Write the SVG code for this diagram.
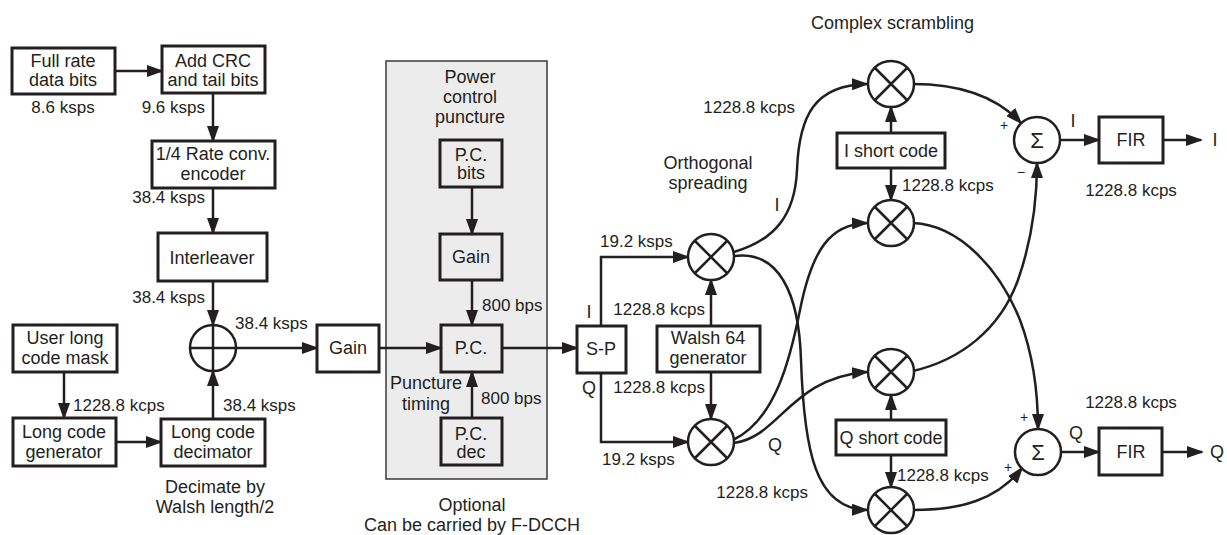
<svg xmlns="http://www.w3.org/2000/svg" width="1227" height="535" viewBox="0 0 1227 535">
<style>
text{font-family:"Liberation Sans",Arial,sans-serif;font-size:18px;fill:#231f20}
.r{font-size:17px}
.m{text-anchor:middle}
.e{text-anchor:end}
.box{fill:#fff;stroke:#231f20;stroke-width:3}
.gbox{fill:none;stroke:#231f20;stroke-width:3}
.c{fill:#fff;stroke:#231f20;stroke-width:2.5}
.x{stroke:#231f20;stroke-width:2.5;fill:none}
.ln{fill:none;stroke:#231f20;stroke-width:2.5}
.a{marker-end:url(#ah)}
.sm{font-size:14px}
</style>
<defs>
<marker id="ah" markerWidth="17" markerHeight="12" refX="15" refY="6" orient="auto" markerUnits="userSpaceOnUse">
<path d="M0,0 L17,6 L0,12 z" fill="#231f20"/>
</marker>
</defs>
<rect width="1227" height="535" fill="#fff"/>

<g id="optional-area">
<rect x="386" y="61" width="161" height="418" fill="#ececec" stroke="#3a3a3a" stroke-width="1.5"/>
<text class="m" x="470" y="83">Power</text>
<text class="m" x="470" y="103">control</text>
<text class="m" x="470" y="123">puncture</text>
<text class="m" x="472" y="511">Optional</text>
<text class="m" x="472" y="531">Can be carried by F-DCCH</text>
</g>

<g id="connectors">
<line class="ln a" x1="115" y1="71" x2="162" y2="71"/>
<line class="ln a" x1="213" y1="93" x2="213" y2="141"/>
<line class="ln a" x1="213" y1="188" x2="213" y2="233"/>
<line class="ln a" x1="213" y1="281" x2="213" y2="325"/>
<line class="ln a" x1="236" y1="348" x2="317" y2="348"/>
<line class="ln a" x1="64" y1="372" x2="64" y2="418"/>
<line class="ln a" x1="116" y1="442" x2="161" y2="442"/>
<line class="ln a" x1="213" y1="419" x2="213" y2="371"/>
<line class="ln a" x1="472" y1="187" x2="472" y2="234"/>
<line class="ln a" x1="472" y1="280" x2="472" y2="325"/>
<line class="ln a" x1="379" y1="348" x2="441" y2="348"/>
<line class="ln a" x1="472" y1="418" x2="472" y2="372"/>
<line class="ln a" x1="502" y1="348" x2="577" y2="348"/>
<polyline class="ln a" points="601,326 601,257 688,257"/>
<polyline class="ln a" points="601,373 601,442 688,442"/>
<line class="ln a" x1="711" y1="326" x2="711" y2="280"/>
<line class="ln a" x1="711" y1="372" x2="711" y2="419"/>
<path class="ln a" d="M734,252 C775,240 795,215 797,170 C799,115 815,85 867,84"/>
<path class="ln a" d="M734,256 C778,250 799,292 801,360 C804,450 815,509 867,510"/>
<path class="ln a" d="M733,440 C775,420 790,360 800,310 C812,250 830,224 867,223"/>
<path class="ln a" d="M734,443 C780,437 790,378 867,372"/>
<line class="ln a" x1="891" y1="133" x2="891" y2="107"/>
<line class="ln a" x1="891" y1="168" x2="891" y2="200"/>
<line class="ln a" x1="891" y1="420" x2="891" y2="395"/>
<line class="ln a" x1="891" y1="455" x2="891" y2="487"/>
<path class="ln a" d="M913,84 C960,84 996,96 1021,123"/>
<path class="ln a" d="M913,223 C960,225 1000,270 1020,320 C1035,360 1038,400 1038,429"/>
<path class="ln a" d="M913,371 C960,360 1000,330 1018,280 C1032,240 1037,200 1037,163"/>
<path class="ln a" d="M914,510 C960,510 997,500 1022,468"/>
<line class="ln a" x1="1060" y1="140" x2="1099" y2="140"/>
<line class="ln a" x1="1163" y1="140" x2="1201" y2="140"/>
<line class="ln a" x1="1061" y1="452" x2="1099" y2="452"/>
<line class="ln a" x1="1162" y1="452" x2="1202" y2="452"/>
</g>

<g id="full-rate">
<rect class="box" x="12" y="48" width="103" height="46"/>
<text class="m" x="63" y="67">Full rate</text>
<text class="m" x="63" y="86">data bits</text>
</g>
<g id="add-crc">
<rect class="box" x="162" y="46" width="103" height="47"/>
<text class="m" x="213" y="67">Add CRC</text>
<text class="m" x="213" y="86">and tail bits</text>
</g>
<g id="encoder">
<rect class="box" x="152" y="141" width="123" height="47"/>
<text class="m" x="213" y="160">1/4 Rate conv.</text>
<text class="m" x="213" y="180">encoder</text>
</g>
<g id="interleaver">
<rect class="box" x="158" y="233" width="109" height="48"/>
<text class="m" x="212" y="264">Interleaver</text>
</g>
<g id="xor">
<circle class="c" cx="213" cy="348" r="23"/>
<path class="x" d="M190,348 H236 M213,325 V371"/>
</g>
<g id="user-long-code-mask">
<rect class="box" x="13" y="325" width="104" height="47"/>
<text class="m" x="65" y="344">User long</text>
<text class="m" x="65" y="364">code mask</text>
</g>
<g id="long-code-generator">
<rect class="box" x="13" y="418" width="103" height="48"/>
<text class="m" x="64" y="438">Long code</text>
<text class="m" x="64" y="458">generator</text>
</g>
<g id="long-code-decimator">
<rect class="box" x="161" y="419" width="104" height="47"/>
<text class="m" x="213" y="438">Long code</text>
<text class="m" x="213" y="458">decimator</text>
</g>
<g id="gain">
<rect class="box" x="317" y="325" width="62" height="47"/>
<text class="m" x="348" y="354">Gain</text>
</g>
<g id="pc-bits">
<rect class="gbox" x="440" y="140" width="62" height="47"/>
<text class="m" x="471" y="161">P.C.</text>
<text class="m" x="471" y="179">bits</text>
</g>
<g id="pc-gain">
<rect class="gbox" x="440" y="234" width="62" height="46"/>
<text class="m" x="471" y="263">Gain</text>
</g>
<g id="pc">
<rect class="gbox" x="441" y="325" width="61" height="47"/>
<text class="m" x="471" y="354">P.C.</text>
</g>
<g id="pc-dec">
<rect class="gbox" x="441" y="418" width="61" height="47"/>
<text class="m" x="471" y="440">P.C.</text>
<text class="m" x="471" y="458">dec</text>
</g>
<g id="s-p">
<rect class="box" x="577" y="326" width="49" height="47"/>
<text class="m" x="601" y="355">S-P</text>
</g>
<g id="walsh">
<rect class="box" x="657" y="326" width="103" height="46"/>
<text class="m" x="708" y="344">Walsh 64</text>
<text class="m" x="708" y="364">generator</text>
</g>
<g id="spread-i">
<circle class="c" cx="711" cy="257" r="23"/>
<path class="x" d="M695,241 L727,273 M727,241 L695,273"/>
</g>
<g id="spread-q">
<circle class="c" cx="711" cy="442" r="23"/>
<path class="x" d="M695,426 L727,458 M727,426 L695,458"/>
</g>
<g id="mult-1">
<circle class="c" cx="891" cy="84" r="23"/>
<path class="x" d="M875,68 L907,100 M907,68 L875,100"/>
</g>
<g id="i-short-code">
<rect class="box" x="837" y="133" width="108" height="35"/>
<text class="m" x="891" y="157">I short code</text>
</g>
<g id="mult-2">
<circle class="c" cx="891" cy="223" r="23"/>
<path class="x" d="M875,207 L907,239 M907,207 L875,239"/>
</g>
<g id="mult-3">
<circle class="c" cx="891" cy="372" r="23"/>
<path class="x" d="M875,356 L907,388 M907,356 L875,388"/>
</g>
<g id="q-short-code">
<rect class="box" x="836" y="420" width="110" height="35"/>
<text class="m" x="891" y="444">Q short code</text>
</g>
<g id="mult-4">
<circle class="c" cx="891" cy="510" r="23"/>
<path class="x" d="M875,494 L907,526 M907,494 L875,526"/>
</g>
<g id="sum-i">
<circle class="c" cx="1037" cy="140" r="23"/>
<text class="m" x="1037" y="148" style="font-size:22px">Σ</text>
</g>
<g id="sum-q">
<circle class="c" cx="1038" cy="452" r="23"/>
<text class="m" x="1038" y="460" style="font-size:22px">Σ</text>
</g>
<g id="fir-i">
<rect class="box" x="1099" y="117" width="64" height="46"/>
<text class="m" x="1131" y="146">FIR</text>
</g>
<g id="fir-q">
<rect class="box" x="1099" y="428" width="63" height="47"/>
<text class="m" x="1131" y="458">FIR</text>
</g>

<g id="labels">
<text class="r m" x="63" y="113">8.6 ksps</text>
<text class="r e" x="205" y="113">9.6 ksps</text>
<text class="r e" x="205" y="203">38.4 ksps</text>
<text class="r e" x="205" y="303">38.4 ksps</text>
<text class="r" x="235" y="329">38.4 ksps</text>
<text class="r" x="73" y="411">1228.8 kcps</text>
<text class="r" x="223" y="411">38.4 ksps</text>
<text class="m" x="215" y="493">Decimate by</text>
<text class="m" x="215" y="513">Walsh length/2</text>
<text class="r" x="482" y="311">800 bps</text>
<text class="r" x="481" y="404">800 bps</text>
<text class="m" x="426" y="389">Puncture</text>
<text class="m" x="426" y="410">timing</text>
<text x="589" y="318" class="m">I</text>
<text x="589" y="394" class="m">Q</text>
<text class="r" x="600" y="247">19.2 ksps</text>
<text class="r" x="602" y="465">19.2 ksps</text>
<text class="r e" x="705" y="315">1228.8 kcps</text>
<text class="r e" x="705" y="393">1228.8 kcps</text>
<text class="m" x="708" y="169">Orthogonal</text>
<text class="m" x="708" y="189">spreading</text>
<text class="r e" x="795" y="113">1228.8 kcps</text>
<text class="m" x="777" y="211">I</text>
<text class="m" x="775" y="451">Q</text>
<text class="r e" x="808" y="498">1228.8 kcps</text>
<text x="811" y="29">Complex scrambling</text>
<text class="r" x="902" y="191">1228.8 kcps</text>
<text class="r" x="897" y="481">1228.8 kcps</text>
<text class="sm m" x="1004" y="130">+</text>
<text class="sm m" x="1021" y="177">−</text>
<text class="sm m" x="1024" y="422">+</text>
<text class="sm m" x="1008" y="472">+</text>
<text class="m" x="1073" y="127">I</text>
<text class="m" x="1076" y="439">Q</text>
<text class="m" x="1215" y="146">I</text>
<text class="m" x="1217" y="458">Q</text>
<text class="r m" x="1131" y="196">1228.8 kcps</text>
<text class="r m" x="1131" y="408">1228.8 kcps</text>
</g>
</svg>
